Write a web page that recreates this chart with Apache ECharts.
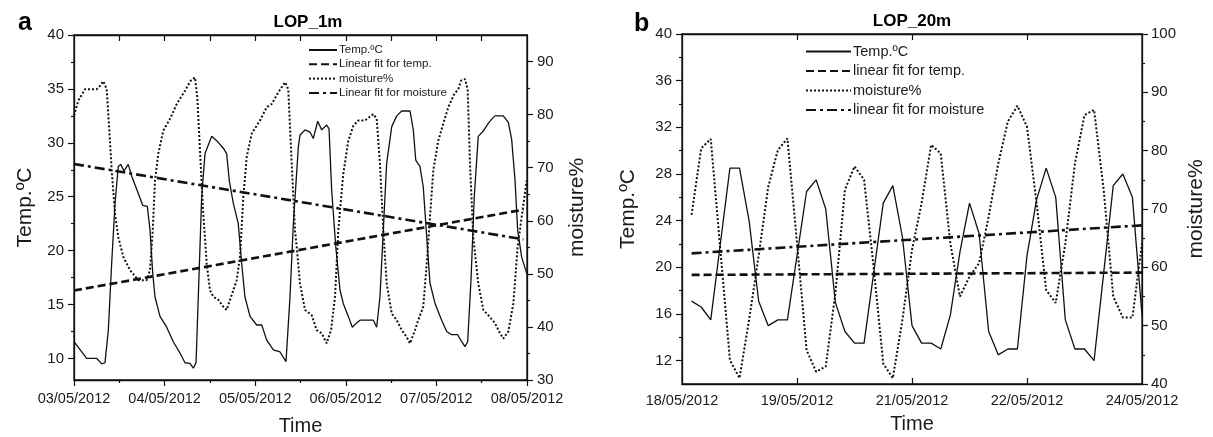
<!DOCTYPE html>
<html><head><meta charset="utf-8">
<script src="https://cdn.jsdelivr.net/npm/echarts@6/dist/echarts.min.js"></script>
<style>html,body{margin:0;padding:0;background:#fff}#c{width:1213px;height:437px}</style>
</head><body><div id="c"></div><script>
// ---------- Panel a : LOP_1m (x in days since 03/05/2012) ----------
var aDateLabels = ['03/05/2012','04/05/2012','05/05/2012','06/05/2012','07/05/2012','08/05/2012'];
var aTemp = [[0,11.55],[0.14,10.0],[0.251,10.0],[0.306,9.5],[0.342,9.6],[0.379,12.6],[0.416,18.85],[0.453,24.4],[0.489,27.8],[0.515,28.0],[0.552,27.4],[0.599,28.0],[0.637,26.9],[0.71,25.3],[0.758,24.2],[0.809,24.1],[0.839,21.9],[0.869,17.9],[0.894,15.7],[0.949,13.9],[1.023,12.9],[1.096,11.55],[1.17,10.5],[1.225,9.6],[1.28,9.55],[1.317,9.1],[1.347,9.6],[1.372,15.7],[1.409,25.0],[1.446,29.0],[1.52,30.6],[1.575,30.2],[1.648,29.5],[1.685,29.0],[1.714,26.5],[1.758,24.4],[1.813,22.5],[1.851,18.8],[1.887,15.7],[1.943,13.9],[2.017,13.1],[2.072,13.1],[2.127,11.7],[2.2,10.8],[2.274,10.6],[2.34,9.7],[2.384,15.7],[2.421,22.5],[2.476,29.6],[2.494,30.7],[2.55,31.2],[2.605,31.0],[2.641,30.4],[2.69,32.0],[2.734,31.2],[2.789,31.65],[2.815,31.3],[2.844,25.6],[2.889,20.4],[2.936,16.35],[2.972,15.1],[3.028,13.9],[3.072,12.9],[3.12,13.3],[3.157,13.55],[3.248,13.55],[3.304,13.55],[3.341,12.9],[3.377,15.7],[3.414,21.9],[3.451,28.1],[3.507,31.5],[3.562,32.5],[3.617,32.95],[3.709,32.95],[3.745,31.2],[3.772,28.4],[3.819,27.8],[3.855,25.9],[3.893,21.3],[3.929,17.0],[3.985,15.1],[4.058,13.55],[4.114,12.5],[4.169,12.2],[4.235,12.2],[4.279,11.55],[4.316,11.1],[4.345,11.55],[4.382,17.3],[4.418,25.0],[4.462,30.6],[4.518,31.1],[4.573,31.8],[4.61,32.2],[4.647,32.5],[4.738,32.5],[4.794,31.9],[4.831,30.3],[4.868,26.5],[4.897,21.9],[4.941,19.4],[5.0,17.8]];
var aMoist = [[0,79.8],[0.047,82.6],[0.121,84.8],[0.251,84.8],[0.287,85.4],[0.323,86.3],[0.361,84.8],[0.39,77.0],[0.416,69.5],[0.453,61.3],[0.489,56.9],[0.544,53.2],[0.618,50.7],[0.71,48.8],[0.802,48.8],[0.839,50.7],[0.869,58.2],[0.894,67.6],[0.93,72.6],[0.986,77.0],[1.06,79.2],[1.134,82.0],[1.225,84.5],[1.288,86.4],[1.336,87.0],[1.361,83.3],[1.398,70.7],[1.427,61.3],[1.465,51.9],[1.501,46.9],[1.538,45.7],[1.593,45.1],[1.648,43.8],[1.685,43.2],[1.722,45.1],[1.796,48.8],[1.832,53.2],[1.869,64.5],[1.906,72.0],[1.961,76.4],[2.053,78.9],[2.127,81.4],[2.182,82.0],[2.255,84.2],[2.329,86.1],[2.365,84.8],[2.403,70.7],[2.439,58.2],[2.458,55.1],[2.494,48.2],[2.55,43.2],[2.624,42.2],[2.679,39.4],[2.734,38.8],[2.789,36.9],[2.837,39.4],[2.881,45.7],[2.917,58.2],[2.972,68.8],[3.028,75.1],[3.083,77.9],[3.138,78.9],[3.212,78.9],[3.304,80.1],[3.341,79.2],[3.377,70.7],[3.414,58.2],[3.451,48.2],[3.507,42.5],[3.562,41.3],[3.617,39.4],[3.672,38.1],[3.709,36.9],[3.764,39.4],[3.8,41.3],[3.855,43.8],[3.893,51.9],[3.929,60.7],[3.966,69.5],[4.021,75.1],[4.076,78.3],[4.131,81.4],[4.198,83.9],[4.242,84.8],[4.272,86.4],[4.316,86.7],[4.345,84.8],[4.371,70.7],[4.407,56.9],[4.462,48.2],[4.518,43.2],[4.573,42.2],[4.647,40.7],[4.702,38.8],[4.738,37.8],[4.794,39.1],[4.849,44.4],[4.897,55.1],[4.941,60.7],[4.997,67.6]];
var aTempFit = [[0,16.3],[4.96,23.8]];
var aMoistFit = [[0,70.7],[4.96,56.5]];
var aLegend = ['Temp.ºC','Linear fit for temp.','moisture%','Linear fit for moisture'];

// ---------- Panel b : LOP_20m (x in sample number, 12 samples per labelled tick) ----------
var bDateLabels = ['18/05/2012','19/05/2012','21/05/2012','22/05/2012','24/05/2012'];
var bTemp = [17.1,16.6,15.5,22.0,28.5,28.5,24.0,17.1,15.0,15.5,15.5,21.0,26.5,27.5,25.0,17.0,14.5,13.5,13.5,19.5,25.5,27.0,22.6,15.0,13.5,13.5,13.0,15.9,21.3,25.5,22.9,14.5,12.5,13.0,13.0,21.0,25.8,28.5,26.0,15.5,13.0,13.0,12.0,19.5,27.0,28.0,26.0,15.9];
var bMoist = [69.0,80.4,82.0,63.0,44.1,41.0,51.0,62.0,73.8,80.1,82.1,64.2,45.8,42.1,43.0,55.5,73.3,77.3,75.0,60.0,43.5,41.0,51.0,63.0,71.0,81.0,79.5,64.1,55.0,58.4,60.7,68.7,77.8,85.0,87.7,84.1,71.0,56.1,53.9,64.1,77.8,86.1,87.0,73.3,55.0,51.4,51.4,64.1];
var bTempFit = [[1,19.35],[48,19.55]];
var bMoistFit = [[1,62.4],[48,67.2]];
var bLegend = ['Temp.ºC','linear fit for temp.','moisture%','linear fit for moisture'];

var FONT = "'Liberation Sans', Arial, sans-serif";
var INK = '#111';
var TXT = '#1a1a1a';

function ax(o) {
  var a = {
    type: 'value', gridIndex: o.grid, position: o.pos, min: o.min, max: o.max,
    splitLine: {show: false},
    axisLine: {show: o.line !== false, onZero: false, lineStyle: {color: INK, width: 1.3}},
    axisTick: {show: true, inside: !!o.inside, length: o.len, customValues: o.ticks, lineStyle: {color: INK, width: 1.2}},
    axisLabel: {show: !!o.labels, customValues: o.labels || [], margin: o.margin || 8,
      fontFamily: FONT, fontSize: o.fs || 15, color: TXT, formatter: o.fmt},
    silent: true
  };
  if (o.name) {
    a.name = o.name; a.nameLocation = 'middle'; a.nameGap = o.gap;
    a.nameRotate = o.rot; a.nameTextStyle = {fontFamily: FONT, fontSize: o.nfs || 20, color: TXT};
  }
  return a;
}
function range(a, b, s) { var r = []; for (var v = a; v <= b + 1e-9; v += s) r.push(+v.toFixed(4)); return r; }

var bT = bTemp.map(function (v, i) { return [i + 1, v]; });
var bM = bMoist.map(function (v, i) { return [i + 1, v]; });

var solid = {color: INK, width: 1.3};
var dots = {color: INK, width: 2, type: [2, 2]};
var dash = {color: INK, width: 2.6, type: [8, 4]};
var dashdot = {color: INK, width: 2.6, type: [10, 4, 3, 4]};
function ser(name, data, xi, yi, ls) {
  return {type: 'line', name: name, data: data, xAxisIndex: xi, yAxisIndex: yi, symbol: 'none',
    showSymbol: false, lineStyle: ls, itemStyle: {color: INK}, silent: true, z: 3};
}

var option = {
  animation: false,
  backgroundColor: '#fff',
  grid: [
    {left: 74, top: 35, width: 453, height: 345, show: false, outerBoundsMode: 'none', containLabel: false},
    {left: 682, top: 34, width: 460, height: 350, show: false, outerBoundsMode: 'none', containLabel: false}
  ],
  xAxis: [
    ax({grid: 0, pos: 'bottom', min: 0, max: 5, ticks: range(0, 5, 1), len: 6, labels: range(0, 5, 1), margin: 11, fs: 14.5,
        fmt: function (v) { return aDateLabels[Math.round(v)]; }, name: 'Time', gap: 36, rot: 0}),
    ax({grid: 0, pos: 'bottom', min: 0, max: 5, ticks: range(0.5, 4.5, 1), len: 3, line: false}),
    ax({grid: 0, pos: 'top', min: 0, max: 5, ticks: range(0.5, 4.5, 0.5), len: 6, inside: true}),
    ax({grid: 1, pos: 'bottom', min: 0, max: 48, ticks: [12, 24, 36], len: 6, inside: true, labels: range(0, 48, 12), margin: 9, fs: 14.5,
        fmt: function (v) { return bDateLabels[Math.round(v / 12)]; }, name: 'Time', gap: 30, rot: 0}),
    ax({grid: 1, pos: 'top', min: 0, max: 48, ticks: [12, 24, 36], len: 6, inside: true})
  ],
  yAxis: [
    ax({grid: 0, pos: 'left', min: 8, max: 40, ticks: range(10, 40, 5), len: 6, labels: range(10, 40, 5), margin: 10, name: 'Temp.ºC', gap: 38, rot: 90, nfs: 21}),
    ax({grid: 0, pos: 'left', min: 8, max: 40, ticks: range(12.5, 37.5, 5), len: 3, line: false}),
    ax({grid: 0, pos: 'right', min: 30, max: 95, ticks: range(30, 90, 10), len: 6, labels: range(30, 90, 10), margin: 10, name: 'moisture%', gap: 40, rot: 90, nfs: 21}),
    ax({grid: 0, pos: 'right', min: 30, max: 95, ticks: range(35, 85, 10), len: 3, line: false}),
    ax({grid: 1, pos: 'left', min: 10, max: 40, ticks: range(12, 40, 4), len: 6, labels: range(12, 40, 4), margin: 10, name: 'Temp.ºC', gap: 43, rot: 90, nfs: 21}),
    ax({grid: 1, pos: 'left', min: 10, max: 40, ticks: range(14, 38, 4), len: 3, line: false}),
    ax({grid: 1, pos: 'right', min: 40, max: 100, ticks: range(40, 100, 10), len: 6, labels: range(40, 100, 10), margin: 9, name: 'moisture%', gap: 44, rot: 90, nfs: 21}),
    ax({grid: 1, pos: 'right', min: 40, max: 100, ticks: range(45, 95, 10), len: 3, line: false})
  ],
  legend: [
    {data: aLegend, orient: 'vertical', left: 303, top: 39, itemWidth: 28, itemHeight: 10, itemGap: 2.3, itemStyle: {opacity: 0},
     textStyle: {fontFamily: FONT, fontSize: 11.5, color: TXT, padding: [0, 0, 0, -3]}, selectedMode: false},
    {data: bLegend, orient: 'vertical', left: 800, top: 39, itemWidth: 45, itemHeight: 12, itemGap: 4.5, itemStyle: {opacity: 0},
     textStyle: {fontFamily: FONT, fontSize: 14.5, color: TXT, padding: [0, 0, 0, -3]}, selectedMode: false}
  ],
  graphic: [
    {type: 'text', left: 18, top: 11, style: {text: 'a', font: 'bold 25px ' + FONT, fill: '#000'}},
    {type: 'text', left: 634, top: 12, style: {text: 'b', font: 'bold 25px ' + FONT, fill: '#000'}},
    {type: 'text', x: 308, y: 22, style: {text: 'LOP_1m', font: 'bold 17px ' + FONT, fill: '#000', align: 'center', verticalAlign: 'middle'}},
    {type: 'text', x: 912, y: 21, style: {text: 'LOP_20m', font: 'bold 17px ' + FONT, fill: '#000', align: 'center', verticalAlign: 'middle'}},
    {type: 'rect', shape: {x: 74, y: 35, width: 453, height: 345}, style: {fill: 'none', stroke: INK, lineWidth: 1.3}, silent: true, z: 10},
    {type: 'rect', shape: {x: 682, y: 34, width: 460, height: 350}, style: {fill: 'none', stroke: INK, lineWidth: 1.3}, silent: true, z: 10}
  ],
  series: [
    ser(aLegend[0], aTemp, 0, 0, solid),
    ser(aLegend[1], aTempFit, 0, 0, dash),
    ser(aLegend[2], aMoist, 0, 2, dots),
    ser(aLegend[3], aMoistFit, 0, 2, dashdot),
    ser(bLegend[0], bT, 3, 4, solid),
    ser(bLegend[1], bTempFit, 3, 4, dash),
    ser(bLegend[2], bM, 3, 6, dots),
    ser(bLegend[3], bMoistFit, 3, 6, dashdot)
  ]
};
var chart = echarts.init(document.getElementById('c'), null, {renderer: 'canvas'});
chart.setOption(option);
</script></body></html>
